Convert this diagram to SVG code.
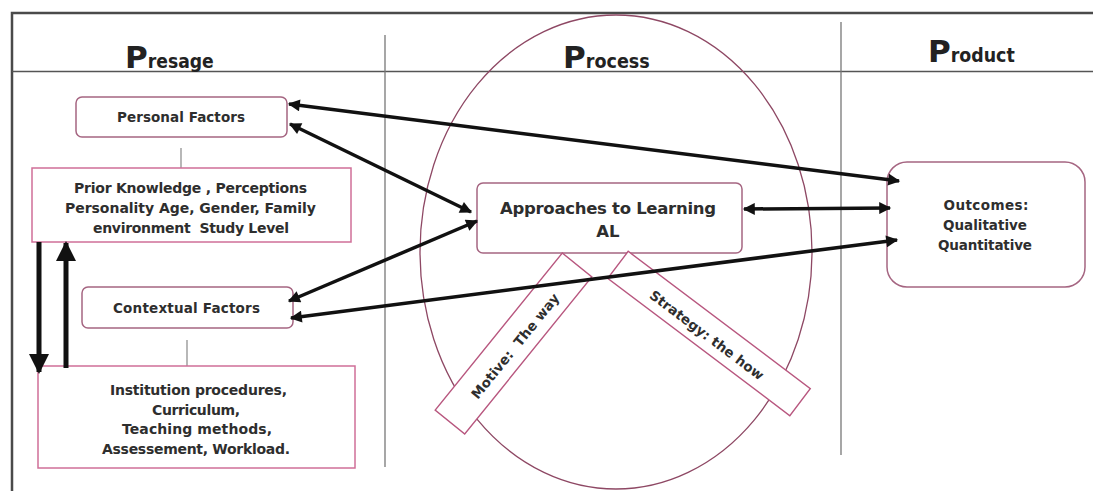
<svg xmlns="http://www.w3.org/2000/svg" width="1093" height="491" viewBox="0 0 1093 491">
  <defs>
    <marker id="head" viewBox="0 0 10 10" refX="9" refY="5" markerWidth="15" markerHeight="12" markerUnits="userSpaceOnUse" orient="auto-start-reverse">
      <path d="M0,0 L10,5 L0,10 Z" fill="#111"/>
    </marker>
    <marker id="headBig" viewBox="0 0 10 10" refX="9" refY="5" markerWidth="20" markerHeight="22" markerUnits="userSpaceOnUse" orient="auto-start-reverse">
      <path d="M0,0 L10,5 L0,10 Z" fill="#111"/>
    </marker>
    <style>
      .frame { stroke: #4a4a4a; stroke-width: 2.5; fill: none; }
      .rule { stroke: #555; stroke-width: 1.5; fill: none; }
      .col { stroke: #777; stroke-width: 1.3; fill: none; }
      .tick { stroke: #888; stroke-width: 1.2; fill: none; }
      .oval { stroke: #8e4864; stroke-width: 1.3; fill: none; }
      .box { fill: #fff; stroke: #cf6f98; stroke-width: 1.5; }
      .rbox { fill: #fff; stroke: #a56581; stroke-width: 1.5; }
      .bar { fill: #fff; stroke: #b8577f; stroke-width: 1.4; }
      .t { font-family: "DejaVu Sans", "Liberation Sans", sans-serif; font-weight: bold; fill: #2e2e2e; text-anchor: middle; }
      .hd { font-family: "DejaVu Sans", "Liberation Sans", sans-serif; font-weight: bold; fill: #222; }
      .link { stroke: #111; stroke-width: 3.5; fill: none; marker-start: url(#head); marker-end: url(#head); }
      .vlink { stroke: #111; stroke-width: 5; fill: none; marker-end: url(#headBig); }
    </style>
  </defs>

  <rect width="1093" height="491" fill="#fff"/>

  <!-- table frame and column rules -->
  <g id="frame">
    <path class="frame" d="M12,491 V13 H1093"/>
    <path class="rule" d="M12,71.5 H1093"/>
    <path class="col" d="M385,35 V467"/>
    <path class="col" d="M841,22 V455"/>
  </g>

  <!-- column headings -->
  <g id="headings">
    <text class="hd" x="125" y="68"><tspan font-size="31">P</tspan><tspan font-size="20" textLength="66" lengthAdjust="spacingAndGlyphs">resage</tspan></text>
    <text class="hd" x="563" y="68"><tspan font-size="31">P</tspan><tspan font-size="20" textLength="64" lengthAdjust="spacingAndGlyphs">rocess</tspan></text>
    <text class="hd" x="928" y="62"><tspan font-size="31">P</tspan><tspan font-size="20" textLength="64" lengthAdjust="spacingAndGlyphs">roduct</tspan></text>
  </g>

  <!-- process oval -->
  <ellipse id="process-oval" class="oval" cx="616" cy="252" rx="196" ry="237"/>

  <!-- thin ties between factor boxes -->
  <g id="ties">
    <path class="tick" d="M181,148 V168"/>
    <path class="tick" d="M187,340 V366"/>
  </g>

  <g id="personal-factors">
    <rect class="rbox" x="76" y="97" width="211" height="40" rx="6"/>
    <text class="t" x="181" y="121.5" font-size="13.5" textLength="128">Personal Factors</text>
  </g>

  <g id="personal-details">
    <rect class="box" x="32" y="168" width="319" height="74"/>
    <text class="t" x="190.5" y="193" font-size="14" textLength="233">Prior Knowledge , Perceptions</text>
    <text class="t" x="190.5" y="213" font-size="14" textLength="251">Personality Age, Gender, Family</text>
    <text class="t" x="191" y="233" font-size="14" textLength="196" xml:space="preserve">environment  Study Level</text>
  </g>

  <g id="contextual-factors">
    <rect class="rbox" x="82" y="287" width="211" height="41" rx="6"/>
    <text class="t" x="186.5" y="312.5" font-size="13.5" textLength="147">Contextual Factors</text>
  </g>

  <g id="contextual-details">
    <rect class="box" x="38" y="366" width="317" height="102"/>
    <text class="t" x="198.5" y="395" font-size="14" textLength="177">Institution procedures,</text>
    <text class="t" x="196" y="415" font-size="14" textLength="88">Curriculum,</text>
    <text class="t" x="197" y="434" font-size="14" textLength="150">Teaching methods,</text>
    <text class="t" x="196" y="454" font-size="14" textLength="188">Assessement, Workload.</text>
  </g>

  <g id="approaches">
    <rect class="rbox" x="477" y="183" width="265" height="70" rx="6"/>
    <text class="t" x="608" y="214" font-size="16.5" textLength="216">Approaches to Learning</text>
    <text class="t" x="608" y="237" font-size="16.5">AL</text>
  </g>

  <g id="motive">
    <rect class="bar" x="-101" y="-19" width="202" height="38" transform="translate(513.5,343.5) rotate(-51)"/>
    <text class="t" x="0" y="5" font-size="13.5" textLength="131" transform="translate(515,346) rotate(-51)" xml:space="preserve">Motive:  The way</text>
  </g>

  <g id="strategy">
    <rect class="bar" x="-114" y="-17" width="228" height="34" transform="translate(709,333.5) rotate(37)"/>
    <text class="t" x="0" y="5" font-size="13.5" textLength="139" transform="translate(707,335) rotate(37)">Strategy: the how</text>
  </g>

  <g id="outcomes">
    <rect class="rbox" x="887" y="162" width="198" height="125" rx="20"/>
    <text class="t" x="986" y="209.5" font-size="13.5" textLength="85">Outcomes:</text>
    <text class="t" x="985" y="229.5" font-size="13.5" textLength="84">Qualitative</text>
    <text class="t" x="985" y="249.5" font-size="13.5" textLength="94">Quantitative</text>
  </g>

  <!-- connectors -->
  <g id="connectors">
    <path class="link" d="M289,104 L899,181"/>
    <path class="link" d="M290,124 L471,212"/>
    <path class="link" d="M289,301 L477,221"/>
    <path class="link" d="M291,318 L897,240"/>
    <path class="link" d="M744,209 L890,208"/>
    <path class="vlink" d="M39,242 V372"/>
    <path class="vlink" d="M66,368 V243"/>
  </g>
</svg>
